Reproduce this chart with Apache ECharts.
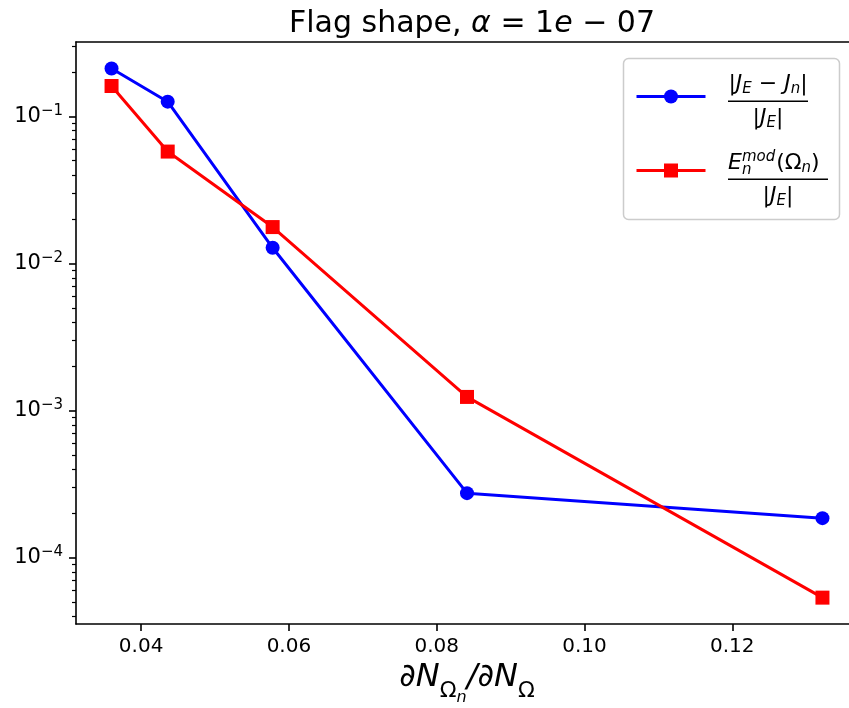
<!DOCTYPE html>
<html>
<head>
<meta charset="utf-8">
<script src="https://cdn.jsdelivr.net/npm/echarts@6/dist/echarts.min.js"></script>
<style>
  html, body { margin: 0; padding: 0; background: #fff; }
  #chart { width: 849px; height: 708px; }
</style>
</head>
<body>
<div id="chart"></div>
<script>
// data
var xValues = [0.0360, 0.0436, 0.0578, 0.0841, 0.1322];
var relError = [0.212, 0.126, 0.0128, 0.000275, 0.000186];   // |J_E - J_n| / |J_E|
var modError = [0.161, 0.0577, 0.0177, 0.00124, 0.0000536];  // E_n^mod(Omega_n) / |J_E|
var xTicks = [0.04, 0.06, 0.08, 0.10, 0.12];
var yTicks = [1e-4, 1e-3, 1e-2, 1e-1];
var seriesNames = ['rel', 'mod'];

var FONT = 'DejaVu Sans';
var xMin = 0.03119, xMax = 0.13701;
var yMin = 3.548e-5, yMax = 0.3206;

// minor log ticks 2..9 x 10^k inside the range
var yMinor = [];
for (var k = -5; k <= 0; k++) {
  for (var m = 2; m <= 9; m++) {
    var v = m * Math.pow(10, k);
    if (v > yMin && v < yMax) yMinor.push(v);
  }
}

function pairs(xs, ys) {
  return xs.map(function (x, i) { return [x, ys[i]]; });
}

var myChart = echarts.init(document.getElementById('chart'));

var axisLineStyle = { color: '#000', width: 1.6 };
var supLabel = function (v) {
  var e = Math.round(Math.log10(v));
  return '{b|10}{sup|' + (e < 0 ? '\u2212' : '') + Math.abs(e) + '}';
};

var fracRich = {
  n: { fontFamily: FONT, fontSize: 22, lineHeight: 26 },
  i: { fontFamily: FONT, fontSize: 22, fontStyle: 'italic', lineHeight: 26 },
  s: { fontFamily: FONT, fontSize: 15, fontStyle: 'italic', lineHeight: 15, verticalAlign: 'bottom' },
  p: { fontFamily: FONT, fontSize: 15, fontStyle: 'italic', lineHeight: 15, verticalAlign: 'top', padding: [0, 1, 6, 0] }
};

var option = {
  backgroundColor: '#fff',
  animation: false,
  title: {
    text: '{n|Flag shape, }{i|\u03b1}{n| = 1}{i|e}{n| \u2212 07}',
    left: 467,
    textAlign: 'center',
    top: 1,
    textStyle: {
      fontWeight: 'normal',
      rich: {
        n: { fontFamily: FONT, fontSize: 30, fontWeight: 'normal', color: '#000', lineHeight: 36 },
        i: { fontFamily: FONT, fontSize: 30, fontWeight: 'normal', fontStyle: 'italic', color: '#000', lineHeight: 36 }
      }
    }
  },
  grid: { left: 76, right: -9, top: 42, bottom: 84, containLabel: false, outerBoundsMode: 'none' },
  legend: {
    data: seriesNames,
    orient: 'vertical',
    left: 630,
    top: 84.5,
    itemWidth: 69,
    itemHeight: 17.5,
    itemGap: 60,
    formatter: function () { return ''; },
    lineStyle: { width: 3 },
    textStyle: { fontSize: 12, lineHeight: 14 },
    z: 10
  },
  xAxis: [
    {
      type: 'value',
      min: xMin,
      max: xMax,
      position: 'bottom',
      axisLine: { show: true, onZero: false, lineStyle: axisLineStyle },
      axisTick: { show: true, customValues: xTicks, length: 7, lineStyle: axisLineStyle },
      axisLabel: {
        customValues: xTicks,
        margin: 13,
        fontFamily: FONT,
        fontSize: 20,
        color: '#000',
        formatter: function (v) { return v.toFixed(2); }
      },
      splitLine: { show: false },
      name: '{i|\u2202N}{s|\u03a9}{ss|n}{i|/\u2202N}{s|\u03a9}',
      nameLocation: 'middle',
      nameGap: 20,
      nameTextStyle: {
        rich: {
          i: { fontFamily: FONT, fontSize: 32, fontStyle: 'italic', color: '#000', lineHeight: 38, verticalAlign: 'top' },
          s: { fontFamily: FONT, fontSize: 22, color: '#000', lineHeight: 22, verticalAlign: 'top', padding: [18, 0, 0, 0] },
          ss: { fontFamily: FONT, fontSize: 16, fontStyle: 'italic', color: '#000', lineHeight: 16, verticalAlign: 'top', padding: [28, 0, 0, 0] }
        }
      }
    },
    {
      type: 'value',
      min: xMin,
      max: xMax,
      position: 'top',
      axisLine: { show: true, onZero: false, lineStyle: axisLineStyle },
      axisTick: { show: false },
      axisLabel: { show: false },
      splitLine: { show: false }
    }
  ],
  yAxis: [
    {
      type: 'log',
      min: yMin,
      max: yMax,
      position: 'left',
      axisLine: { show: true, onZero: false, lineStyle: axisLineStyle },
      axisTick: { show: true, customValues: yTicks, length: 7, lineStyle: axisLineStyle },
      axisLabel: {
        customValues: yTicks,
        margin: 13,
        formatter: supLabel,
        rich: {
          b: { fontFamily: FONT, fontSize: 21, color: '#000', lineHeight: 26 },
          sup: { fontFamily: FONT, fontSize: 15, color: '#000', lineHeight: 15, verticalAlign: 'top', padding: [0, 0, 4, 0] }
        }
      },
      splitLine: { show: false }
    },
    {
      type: 'log',
      min: yMin,
      max: yMax,
      position: 'left',
      axisLine: { show: false },
      axisTick: { show: true, customValues: yMinor, length: 4, lineStyle: { color: '#000', width: 1.2 } },
      axisLabel: { show: false },
      splitLine: { show: false }
    }
  ],
  graphic: [
    {
      type: 'rect',
      shape: { x: 623.5, y: 58.5, width: 216, height: 161, r: 5 },
      style: { fill: 'rgba(255,255,255,0.8)', stroke: '#cccccc', lineWidth: 1.5 },
      z: 5
    },
    // legend label 1: |J_E - J_n| / |J_E|
    {
      type: 'text', x: 768, y: 84, z: 11,
      style: { text: '{n||}{i|J}{s|E}{n| \u2212 }{i|J}{s|n}{n||}', align: 'center', verticalAlign: 'middle', rich: fracRich }
    },
    { type: 'rect', z: 11, shape: { x: 728, y: 100.5, width: 80, height: 1.5 }, style: { fill: '#000' } },
    {
      type: 'text', x: 768, y: 118, z: 11,
      style: { text: '{n||}{i|J}{s|E}{n||}', align: 'center', verticalAlign: 'middle', rich: fracRich }
    },
    // legend label 2: E_n^mod(Omega_n) / |J_E|
    {
      type: 'text', x: 728, y: 163, z: 11,
      style: { text: '{i|E}{p|mod}{n|(\u03a9}{s|n}{n|)}', align: 'left', verticalAlign: 'middle', rich: fracRich }
    },
    {
      type: 'text', x: 742, y: 170, z: 11,
      style: { text: 'n', fontFamily: FONT, fontSize: 15, fontStyle: 'italic', align: 'left', verticalAlign: 'middle' }
    },
    { type: 'rect', z: 11, shape: { x: 728, y: 178.5, width: 100, height: 1.5 }, style: { fill: '#000' } },
    {
      type: 'text', x: 778, y: 196, z: 11,
      style: { text: '{n||}{i|J}{s|E}{n||}', align: 'center', verticalAlign: 'middle', rich: fracRich }
    }
  ],
  series: [
    {
      name: seriesNames[0],
      type: 'line',
      xAxisIndex: 0,
      yAxisIndex: 0,
      data: pairs(xValues, relError),
      symbol: 'circle',
      symbolSize: 14,
      color: '#0000ff',
      lineStyle: { color: '#0000ff', width: 3 },
      itemStyle: { color: '#0000ff' },
      z: 3
    },
    {
      name: seriesNames[1],
      type: 'line',
      xAxisIndex: 0,
      yAxisIndex: 0,
      data: pairs(xValues, modError),
      symbol: 'rect',
      symbolSize: 14,
      color: '#ff0000',
      lineStyle: { color: '#ff0000', width: 3 },
      itemStyle: { color: '#ff0000' },
      z: 4
    }
  ]
};

myChart.setOption(option);
</script>
</body>
</html>
